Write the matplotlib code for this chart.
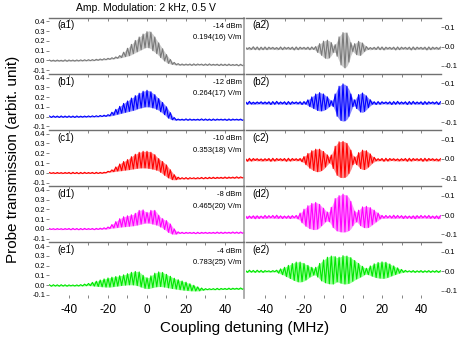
import matplotlib
matplotlib.use("Agg")
import matplotlib.pyplot as plt

plt.rcParams["font.family"] = ["Liberation Sans", "DejaVu Sans"]
plt.rcParams["axes.unicode_minus"] = False

# detuning grid (MHz), one sample per MHz
detuning = list(range(-50, 51))

# upper / lower envelope of the fast oscillating trace
a1_hi = [0.004, 0.006, 0.003, 0.005, 0.004, 0.006, 0.002, 0.005, 0.006, 0.004,
         0.005, 0.007, 0.004, 0.006, 0.005, 0.007, 0.006, 0.008, 0.007, 0.009,
         0.008, 0.010, 0.009, 0.011, 0.012, 0.014, 0.015, 0.017, 0.018, 0.020,
         0.022, 0.025, 0.028, 0.032, 0.036, 0.042, 0.050, 0.065, 0.085, 0.105,
         0.125, 0.145, 0.165, 0.185, 0.205, 0.220, 0.240, 0.255, 0.270, 0.285,
         0.295, 0.305, 0.290, 0.270, 0.240, 0.210, 0.180, 0.150, 0.120, 0.090,
         0.060, 0.035, 0.010, -0.010, -0.020, -0.028, -0.032, -0.035, -0.036, -0.035,
         -0.037, -0.034, -0.036, -0.038, -0.035, -0.037, -0.036, -0.034, -0.037, -0.038,
         -0.036, -0.038, -0.035, -0.037, -0.039, -0.036, -0.038, -0.040, -0.037, -0.039,
         -0.038, -0.040, -0.037, -0.039, -0.041, -0.038, -0.040, -0.042, -0.039, -0.041,
         -0.040]
a1_lo = [-0.008, -0.006, -0.009, -0.007, -0.008, -0.006, -0.010, -0.007, -0.006, -0.008,
         -0.007, -0.005, -0.008, -0.006, -0.007, -0.005, -0.006, -0.004, -0.005, -0.003,
         -0.004, -0.002, -0.003, -0.001, 0.000, 0.002, 0.003, 0.005, 0.006, 0.008,
         0.010, 0.012, 0.014, 0.017, 0.020, 0.023, 0.026, 0.030, 0.035, 0.040,
         0.045, 0.050, 0.060, 0.070, 0.080, 0.090, 0.100, 0.110, 0.120, 0.130,
         0.135, 0.130, 0.120, 0.100, 0.085, 0.070, 0.050, 0.030, 0.010, -0.005,
         -0.020, -0.030, -0.035, -0.040, -0.043, -0.045, -0.047, -0.048, -0.049, -0.048,
         -0.049, -0.047, -0.048, -0.050, -0.047, -0.049, -0.048, -0.046, -0.049, -0.050,
         -0.048, -0.050, -0.047, -0.049, -0.051, -0.048, -0.050, -0.052, -0.049, -0.051,
         -0.050, -0.052, -0.049, -0.051, -0.053, -0.050, -0.052, -0.054, -0.051, -0.053,
         -0.052]

b1_hi = [0.006, 0.004, 0.007, 0.005, 0.006, 0.004, 0.007, 0.005, 0.006, 0.005,
         0.007, 0.005, 0.006, 0.004, 0.007, 0.006, 0.005, 0.007, 0.006, 0.008,
         0.007, 0.009, 0.008, 0.010, 0.009, 0.011, 0.012, 0.013, 0.015, 0.017,
         0.020, 0.030, 0.045, 0.060, 0.075, 0.090, 0.105, 0.120, 0.135, 0.150,
         0.160, 0.175, 0.190, 0.200, 0.215, 0.225, 0.240, 0.250, 0.260, 0.265,
         0.270, 0.265, 0.255, 0.240, 0.225, 0.205, 0.185, 0.165, 0.145, 0.125,
         0.100, 0.070, 0.040, 0.010, -0.010, -0.020, -0.025, -0.024, -0.026, -0.025,
         -0.023, -0.026, -0.024, -0.025, -0.027, -0.024, -0.026, -0.025, -0.023, -0.026,
         -0.024, -0.026, -0.025, -0.027, -0.024, -0.026, -0.025, -0.023, -0.026, -0.024,
         -0.025, -0.027, -0.024, -0.026, -0.025, -0.023, -0.026, -0.024, -0.025, -0.027,
         -0.025]
b1_lo = [-0.006, -0.008, -0.005, -0.007, -0.006, -0.008, -0.005, -0.007, -0.006, -0.007,
         -0.005, -0.007, -0.006, -0.008, -0.005, -0.006, -0.007, -0.005, -0.006, -0.004,
         -0.005, -0.003, -0.004, -0.002, -0.003, -0.001, 0.000, 0.001, 0.002, 0.003,
         0.005, 0.008, 0.010, 0.015, 0.020, 0.025, 0.030, 0.035, 0.040, 0.045,
         0.050, 0.055, 0.060, 0.065, 0.070, 0.080, 0.085, 0.090, 0.095, 0.100,
         0.100, 0.100, 0.095, 0.090, 0.085, 0.075, 0.065, 0.050, 0.035, 0.020,
         0.000, -0.015, -0.025, -0.032, -0.035, -0.036, -0.036, -0.035, -0.037, -0.036,
         -0.034, -0.037, -0.035, -0.036, -0.038, -0.035, -0.037, -0.036, -0.034, -0.037,
         -0.035, -0.037, -0.036, -0.038, -0.035, -0.037, -0.036, -0.034, -0.037, -0.035,
         -0.036, -0.038, -0.035, -0.037, -0.036, -0.034, -0.037, -0.035, -0.036, -0.038,
         -0.036]

c1_hi = [0.003, 0.005, 0.002, 0.004, 0.003, 0.005, 0.002, 0.004, 0.003, 0.005,
         0.004, 0.002, 0.005, 0.003, 0.004, 0.002, 0.004, 0.003, 0.005, 0.004,
         0.003, 0.005, 0.004, 0.003, 0.005, 0.004, 0.004, 0.005, 0.005, 0.010,
         0.015, 0.020, 0.030, 0.045, 0.060, 0.075, 0.090, 0.105, 0.115, 0.125,
         0.135, 0.150, 0.165, 0.180, 0.190, 0.200, 0.210, 0.215, 0.220, 0.220,
         0.220, 0.218, 0.210, 0.200, 0.185, 0.165, 0.145, 0.130, 0.115, 0.100,
         0.080, 0.055, 0.030, 0.005, -0.020, -0.035, -0.045, -0.050, -0.050, -0.051,
         -0.049, -0.052, -0.050, -0.048, -0.051, -0.049, -0.050, -0.048, -0.047, -0.049,
         -0.047, -0.048, -0.046, -0.047, -0.045, -0.047, -0.046, -0.044, -0.046, -0.045,
         -0.043, -0.045, -0.044, -0.042, -0.044, -0.043, -0.041, -0.043, -0.042, -0.040,
         -0.042]
c1_lo = [-0.008, -0.006, -0.009, -0.007, -0.008, -0.006, -0.009, -0.007, -0.008, -0.006,
         -0.007, -0.009, -0.006, -0.008, -0.007, -0.009, -0.007, -0.008, -0.006, -0.007,
         -0.008, -0.006, -0.007, -0.008, -0.006, -0.007, -0.006, -0.005, -0.005, 0.000,
         0.005, 0.008, 0.010, 0.012, 0.015, 0.018, 0.020, 0.022, 0.025, 0.028,
         0.030, 0.033, 0.036, 0.040, 0.043, 0.046, 0.048, 0.050, 0.050, 0.050,
         0.048, 0.045, 0.042, 0.038, 0.033, 0.027, 0.018, 0.005, -0.010, -0.025,
         -0.040, -0.052, -0.062, -0.070, -0.072, -0.070, -0.066, -0.063, -0.062, -0.063,
         -0.061, -0.064, -0.062, -0.060, -0.063, -0.061, -0.062, -0.060, -0.059, -0.061,
         -0.059, -0.060, -0.058, -0.059, -0.057, -0.059, -0.058, -0.056, -0.058, -0.057,
         -0.055, -0.057, -0.056, -0.054, -0.056, -0.055, -0.053, -0.055, -0.054, -0.052,
         -0.054]

d1_hi = [0.004, 0.006, 0.003, 0.005, 0.004, 0.006, 0.003, 0.005, 0.004, 0.006,
         0.005, 0.003, 0.006, 0.004, 0.005, 0.003, 0.005, 0.004, 0.006, 0.005,
         0.004, 0.006, 0.005, 0.004, 0.006, 0.005, 0.008, 0.010, 0.012, 0.015,
         0.020, 0.030, 0.045, 0.060, 0.075, 0.090, 0.105, 0.115, 0.125, 0.130,
         0.135, 0.140, 0.145, 0.150, 0.160, 0.180, 0.190, 0.195, 0.195, 0.180,
         0.170, 0.175, 0.190, 0.195, 0.190, 0.170, 0.140, 0.120, 0.105, 0.095,
         0.085, 0.070, 0.050, 0.025, 0.000, -0.020, -0.030, -0.035, -0.034, -0.036,
         -0.035, -0.033, -0.036, -0.034, -0.035, -0.037, -0.034, -0.036, -0.035, -0.033,
         -0.035, -0.034, -0.036, -0.033, -0.035, -0.034, -0.032, -0.034, -0.033, -0.035,
         -0.033, -0.032, -0.034, -0.033, -0.031, -0.033, -0.032, -0.034, -0.031, -0.033,
         -0.032]
d1_lo = [-0.007, -0.005, -0.008, -0.006, -0.007, -0.005, -0.008, -0.006, -0.007, -0.005,
         -0.006, -0.008, -0.005, -0.007, -0.006, -0.008, -0.006, -0.007, -0.005, -0.006,
         -0.007, -0.005, -0.006, -0.007, -0.005, -0.005, -0.004, -0.003, -0.002, -0.001,
         0.000, 0.005, 0.008, 0.010, 0.012, 0.015, 0.018, 0.020, 0.022, 0.024,
         0.026, 0.028, 0.030, 0.033, 0.036, 0.040, 0.045, 0.050, 0.055, 0.060,
         0.060, 0.060, 0.055, 0.050, 0.045, 0.040, 0.030, 0.020, 0.010, -0.005,
         -0.020, -0.035, -0.045, -0.052, -0.055, -0.052, -0.048, -0.046, -0.045, -0.047,
         -0.046, -0.044, -0.047, -0.045, -0.046, -0.048, -0.045, -0.047, -0.046, -0.044,
         -0.046, -0.045, -0.047, -0.044, -0.046, -0.045, -0.043, -0.045, -0.044, -0.046,
         -0.044, -0.043, -0.045, -0.044, -0.042, -0.044, -0.043, -0.045, -0.042, -0.044,
         -0.043]

e1_hi = [0.003, 0.001, 0.004, 0.002, 0.003, 0.001, 0.004, 0.002, 0.003, 0.001,
         0.002, 0.004, 0.001, 0.003, 0.002, 0.003, 0.005, 0.008, 0.010, 0.013,
         0.017, 0.022, 0.028, 0.034, 0.040, 0.046, 0.052, 0.058, 0.063, 0.068,
         0.073, 0.077, 0.081, 0.085, 0.088, 0.092, 0.096, 0.100, 0.105, 0.110,
         0.117, 0.124, 0.131, 0.137, 0.140, 0.140, 0.135, 0.120, 0.100, 0.085,
         0.075, 0.080, 0.095, 0.110, 0.122, 0.130, 0.135, 0.135, 0.130, 0.120,
         0.110, 0.100, 0.090, 0.080, 0.070, 0.062, 0.055, 0.048, 0.042, 0.036,
         0.030, 0.022, 0.014, 0.006, -0.002, -0.010, -0.018, -0.025, -0.030, -0.034,
         -0.036, -0.035, -0.037, -0.034, -0.036, -0.035, -0.033, -0.035, -0.034, -0.032,
         -0.034, -0.033, -0.031, -0.033, -0.032, -0.030, -0.032, -0.031, -0.029, -0.031,
         -0.030]
e1_lo = [-0.009, -0.011, -0.008, -0.010, -0.009, -0.011, -0.008, -0.010, -0.009, -0.011,
         -0.010, -0.008, -0.011, -0.009, -0.010, -0.009, -0.008, -0.008, -0.007, -0.006,
         -0.005, -0.006, -0.008, -0.010, -0.012, -0.014, -0.015, -0.017, -0.018, -0.020,
         -0.020, -0.020, -0.018, -0.015, -0.012, -0.010, -0.007, -0.004, -0.002, 0.000,
         0.002, 0.003, 0.003, 0.002, 0.000, -0.005, -0.012, -0.020, -0.027, -0.033,
         -0.036, -0.035, -0.030, -0.025, -0.020, -0.017, -0.015, -0.015, -0.017, -0.020,
         -0.024, -0.028, -0.032, -0.035, -0.038, -0.041, -0.044, -0.047, -0.050, -0.052,
         -0.054, -0.056, -0.058, -0.059, -0.060, -0.060, -0.060, -0.058, -0.055, -0.052,
         -0.048, -0.047, -0.049, -0.046, -0.048, -0.047, -0.045, -0.047, -0.046, -0.044,
         -0.046, -0.045, -0.043, -0.045, -0.044, -0.042, -0.044, -0.043, -0.041, -0.043,
         -0.042]

a2_hi = [-0.004, -0.002, -0.005, -0.003, -0.001, -0.004, -0.002, -0.005, -0.003, -0.004,
         -0.002, -0.004, -0.003, -0.001, -0.004, -0.002, -0.005, -0.003, -0.002, -0.004,
         -0.003, -0.001, -0.004, -0.002, -0.003, -0.005, -0.002, -0.004, -0.003, -0.001,
         -0.004, -0.002, -0.003, -0.004, -0.002, -0.003, 0.000, 0.010, 0.015, 0.020,
         0.028, 0.032, 0.033, 0.030, 0.020, 0.005, 0.010, 0.030, 0.050, 0.065,
         0.072, 0.075, 0.070, 0.050, 0.020, 0.005, 0.015, 0.022, 0.027, 0.025,
         0.018, 0.010, 0.000, -0.003, -0.005, -0.002, -0.004, -0.003, -0.001, -0.004,
         -0.002, -0.005, -0.003, -0.001, -0.004, -0.002, -0.003, -0.005, -0.002, -0.004,
         -0.003, -0.001, -0.004, -0.002, -0.003, -0.005, -0.002, -0.004, -0.003, -0.001,
         -0.004, -0.002, -0.003, -0.005, -0.002, -0.004, -0.003, -0.001, -0.004, -0.002,
         -0.003]
a2_lo = [-0.016, -0.014, -0.017, -0.015, -0.013, -0.016, -0.014, -0.017, -0.015, -0.016,
         -0.014, -0.016, -0.015, -0.013, -0.016, -0.014, -0.017, -0.015, -0.014, -0.016,
         -0.015, -0.013, -0.016, -0.014, -0.015, -0.017, -0.014, -0.016, -0.015, -0.013,
         -0.016, -0.014, -0.015, -0.016, -0.014, -0.015, -0.020, -0.030, -0.035, -0.045,
         -0.055, -0.060, -0.063, -0.058, -0.045, -0.030, -0.030, -0.050, -0.075, -0.095,
         -0.105, -0.110, -0.100, -0.080, -0.045, -0.025, -0.035, -0.042, -0.045, -0.045,
         -0.035, -0.025, -0.018, -0.015, -0.017, -0.014, -0.016, -0.015, -0.013, -0.016,
         -0.014, -0.017, -0.015, -0.013, -0.016, -0.014, -0.015, -0.017, -0.014, -0.016,
         -0.015, -0.013, -0.016, -0.014, -0.015, -0.017, -0.014, -0.016, -0.015, -0.013,
         -0.016, -0.014, -0.015, -0.017, -0.014, -0.016, -0.015, -0.013, -0.016, -0.014,
         -0.015]

b2_hi = [0.006, 0.004, 0.007, 0.005, 0.003, 0.006, 0.004, 0.007, 0.005, 0.006,
         0.004, 0.006, 0.005, 0.003, 0.006, 0.004, 0.007, 0.005, 0.004, 0.006,
         0.005, 0.003, 0.006, 0.004, 0.005, 0.007, 0.004, 0.006, 0.005, 0.003,
         0.006, 0.008, 0.015, 0.022, 0.030, 0.038, 0.045, 0.050, 0.052, 0.050,
         0.045, 0.038, 0.030, 0.020, 0.010, 0.020, 0.045, 0.070, 0.085, 0.093,
         0.097, 0.095, 0.085, 0.070, 0.045, 0.020, 0.015, 0.030, 0.042, 0.050,
         0.050, 0.045, 0.035, 0.025, 0.015, 0.008, 0.005, 0.003, 0.006, 0.004,
         0.005, 0.007, 0.004, 0.006, 0.005, 0.003, 0.006, 0.004, 0.007, 0.005,
         0.004, 0.006, 0.005, 0.003, 0.006, 0.004, 0.007, 0.005, 0.004, 0.006,
         0.005, 0.003, 0.006, 0.004, 0.005, 0.007, 0.004, 0.006, 0.005, 0.003,
         0.005]
b2_lo = [-0.006, -0.008, -0.005, -0.007, -0.009, -0.006, -0.008, -0.005, -0.007, -0.006,
         -0.008, -0.006, -0.007, -0.009, -0.006, -0.008, -0.005, -0.007, -0.008, -0.006,
         -0.007, -0.009, -0.006, -0.008, -0.007, -0.005, -0.008, -0.006, -0.007, -0.009,
         -0.006, -0.008, -0.015, -0.020, -0.025, -0.030, -0.035, -0.040, -0.042, -0.042,
         -0.040, -0.035, -0.028, -0.020, -0.012, -0.020, -0.045, -0.070, -0.085, -0.092,
         -0.095, -0.093, -0.085, -0.070, -0.045, -0.020, -0.015, -0.030, -0.040, -0.048,
         -0.050, -0.045, -0.035, -0.025, -0.015, -0.008, -0.007, -0.009, -0.006, -0.008,
         -0.007, -0.005, -0.008, -0.006, -0.007, -0.009, -0.006, -0.008, -0.005, -0.007,
         -0.008, -0.006, -0.007, -0.009, -0.006, -0.008, -0.005, -0.007, -0.008, -0.006,
         -0.007, -0.009, -0.006, -0.008, -0.007, -0.005, -0.008, -0.006, -0.007, -0.009,
         -0.007]

c2_hi = [0.002, 0.000, 0.003, 0.001, 0.002, 0.004, 0.001, 0.003, 0.000, 0.002,
         0.001, 0.003, 0.002, 0.000, 0.003, 0.001, 0.002, 0.004, 0.001, 0.003,
         0.002, 0.000, 0.003, 0.001, 0.002, 0.004, 0.001, 0.003, 0.002, 0.005,
         0.012, 0.020, 0.028, 0.035, 0.042, 0.047, 0.050, 0.052, 0.050, 0.045,
         0.038, 0.030, 0.020, 0.010, 0.020, 0.045, 0.065, 0.080, 0.088, 0.090,
         0.090, 0.088, 0.080, 0.065, 0.045, 0.020, 0.010, 0.020, 0.032, 0.040,
         0.045, 0.045, 0.042, 0.035, 0.025, 0.015, 0.008, 0.002, 0.001, 0.003,
         0.002, 0.000, 0.003, 0.001, 0.002, 0.004, 0.001, 0.003, 0.000, 0.002,
         0.001, 0.003, 0.002, 0.000, 0.003, 0.001, 0.002, 0.004, 0.001, 0.003,
         0.002, 0.000, 0.003, 0.001, 0.002, 0.004, 0.001, 0.003, 0.000, 0.002,
         0.001]
c2_lo = [-0.010, -0.012, -0.009, -0.011, -0.010, -0.008, -0.011, -0.009, -0.012, -0.010,
         -0.011, -0.009, -0.010, -0.012, -0.009, -0.011, -0.010, -0.008, -0.011, -0.009,
         -0.010, -0.012, -0.009, -0.011, -0.010, -0.008, -0.011, -0.009, -0.010, -0.015,
         -0.020, -0.030, -0.040, -0.048, -0.055, -0.060, -0.065, -0.066, -0.065, -0.060,
         -0.052, -0.042, -0.030, -0.020, -0.030, -0.050, -0.070, -0.085, -0.093, -0.096,
         -0.097, -0.095, -0.088, -0.075, -0.055, -0.030, -0.020, -0.030, -0.040, -0.050,
         -0.055, -0.055, -0.050, -0.042, -0.032, -0.022, -0.015, -0.010, -0.011, -0.009,
         -0.010, -0.012, -0.009, -0.011, -0.010, -0.008, -0.011, -0.009, -0.012, -0.010,
         -0.011, -0.009, -0.010, -0.012, -0.009, -0.011, -0.010, -0.008, -0.011, -0.009,
         -0.010, -0.012, -0.009, -0.011, -0.010, -0.008, -0.011, -0.009, -0.012, -0.010,
         -0.011]

d2_hi = [-0.004, -0.002, -0.005, -0.003, -0.004, -0.001, -0.004, -0.002, -0.005, -0.003,
         -0.002, -0.004, -0.003, -0.005, -0.002, -0.004, -0.001, -0.003, -0.004, -0.002,
         -0.005, -0.003, -0.004, -0.002, -0.003, -0.005, -0.002, 0.000, 0.010, 0.020,
         0.030, 0.040, 0.048, 0.055, 0.060, 0.063, 0.065, 0.062, 0.055, 0.045,
         0.035, 0.025, 0.015, 0.020, 0.040, 0.065, 0.085, 0.095, 0.100, 0.105,
         0.108, 0.105, 0.100, 0.090, 0.070, 0.045, 0.020, 0.015, 0.025, 0.035,
         0.042, 0.045, 0.045, 0.043, 0.038, 0.032, 0.025, 0.018, 0.010, 0.003,
         -0.002, -0.004, -0.002, -0.005, -0.003, -0.004, -0.001, -0.004, -0.002, -0.005,
         -0.003, -0.002, -0.004, -0.003, -0.005, -0.002, -0.004, -0.001, -0.003, -0.004,
         -0.002, -0.005, -0.003, -0.004, -0.002, -0.003, -0.005, -0.002, -0.004, -0.001,
         -0.003]
d2_lo = [-0.016, -0.018, -0.015, -0.017, -0.016, -0.019, -0.016, -0.018, -0.015, -0.017,
         -0.018, -0.016, -0.017, -0.015, -0.018, -0.016, -0.019, -0.017, -0.016, -0.018,
         -0.015, -0.017, -0.016, -0.018, -0.017, -0.015, -0.018, -0.020, -0.030, -0.040,
         -0.050, -0.058, -0.065, -0.070, -0.073, -0.075, -0.075, -0.072, -0.065, -0.055,
         -0.045, -0.035, -0.030, -0.035, -0.050, -0.065, -0.075, -0.082, -0.085, -0.087,
         -0.088, -0.087, -0.085, -0.080, -0.070, -0.055, -0.040, -0.035, -0.045, -0.055,
         -0.062, -0.065, -0.066, -0.064, -0.058, -0.050, -0.042, -0.035, -0.028, -0.020,
         -0.017, -0.016, -0.018, -0.015, -0.017, -0.016, -0.019, -0.016, -0.018, -0.015,
         -0.017, -0.018, -0.016, -0.017, -0.015, -0.018, -0.016, -0.019, -0.017, -0.016,
         -0.018, -0.015, -0.017, -0.016, -0.018, -0.017, -0.015, -0.018, -0.016, -0.019,
         -0.017]

e2_hi = [0.004, 0.002, 0.005, 0.003, 0.004, 0.002, 0.005, 0.003, 0.004, 0.002,
         0.003, 0.005, 0.002, 0.004, 0.003, 0.005, 0.005, 0.008, 0.012, 0.016,
         0.020, 0.025, 0.030, 0.035, 0.040, 0.044, 0.047, 0.048, 0.047, 0.045,
         0.040, 0.035, 0.030, 0.025, 0.020, 0.015, 0.020, 0.030, 0.040, 0.050,
         0.058, 0.065, 0.072, 0.076, 0.078, 0.080, 0.075, 0.070, 0.072, 0.076,
         0.080, 0.080, 0.078, 0.075, 0.070, 0.062, 0.055, 0.048, 0.040, 0.032,
         0.025, 0.018, 0.015, 0.020, 0.027, 0.033, 0.038, 0.042, 0.045, 0.047,
         0.048, 0.048, 0.046, 0.042, 0.037, 0.032, 0.027, 0.022, 0.017, 0.013,
         0.009, 0.006, 0.004, 0.004, 0.002, 0.005, 0.003, 0.004, 0.002, 0.005,
         0.003, 0.004, 0.002, 0.005, 0.003, 0.004, 0.002, 0.005, 0.003, 0.004,
         0.002]
e2_lo = [-0.004, -0.006, -0.003, -0.005, -0.004, -0.006, -0.003, -0.005, -0.004, -0.006,
         -0.005, -0.003, -0.006, -0.004, -0.005, -0.003, -0.005, -0.010, -0.014, -0.018,
         -0.022, -0.028, -0.033, -0.038, -0.043, -0.048, -0.052, -0.055, -0.056, -0.054,
         -0.050, -0.045, -0.038, -0.030, -0.025, -0.020, -0.020, -0.030, -0.040, -0.050,
         -0.055, -0.060, -0.063, -0.065, -0.066, -0.066, -0.060, -0.055, -0.058, -0.062,
         -0.065, -0.066, -0.065, -0.063, -0.058, -0.052, -0.045, -0.040, -0.035, -0.030,
         -0.025, -0.018, -0.015, -0.018, -0.022, -0.026, -0.030, -0.033, -0.035, -0.036,
         -0.037, -0.037, -0.035, -0.032, -0.028, -0.024, -0.020, -0.017, -0.013, -0.010,
         -0.008, -0.006, -0.004, -0.004, -0.003, -0.005, -0.004, -0.006, -0.003, -0.005,
         -0.004, -0.006, -0.003, -0.005, -0.004, -0.006, -0.003, -0.005, -0.004, -0.006,
         -0.004]

row_tags = ["a", "b", "c", "d", "e"]
powers = ["-14 dBm", "-12 dBm", "-10 dBm", "-8 dBm", "-4 dBm"]
fields = ["0.194(16) V/m", "0.264(17) V/m", "0.353(18) V/m", "0.465(20) V/m", "0.783(25) V/m"]
left_traces = [(a1_hi, a1_lo), (b1_hi, b1_lo), (c1_hi, c1_lo), (d1_hi, d1_lo), (e1_hi, e1_lo)]
right_traces = [(a2_hi, a2_lo), (b2_hi, b2_lo), (c2_hi, c2_lo), (d2_hi, d2_lo), (e2_hi, e2_lo)]
left_ticks = [-0.1, 0.0, 0.1, 0.2, 0.3, 0.4]
right_ticks = [-0.1, 0.0, 0.1]
x_ticks = [-40, -20, 0, 20, 40]

dark = ["#7a7a7a", "#0000ff", "#ff0000", "#ff00ff", "#00e600"]
light = ["#cacaca", "#8a8aff", "#ff8a8a", "#ff96ff", "#96ff96"]

fig = plt.figure(figsize=(4.57, 3.42), dpi=100)

x0_left, x0_right, width = 0.1083, 0.5372, 0.4267
top, bottom = 0.9488, 0.1278
height = (top - bottom) / 5
frame = "#707070"


def draw_trace(ax, hi, lo, i):
    # light band between the envelopes, then the trace itself, which swings
    # from one envelope to the other on successive samples
    ax.fill_between(detuning, lo, hi, color=light[i], lw=0)
    swing = [h if k % 2 == 0 else l for k, (h, l) in enumerate(zip(hi, lo))]
    ax.plot(detuning, swing, color=dark[i], lw=0.8)


for i, tag in enumerate(row_tags):
    y0 = top - (i + 1) * height
    for side in ("left", "right"):
        x0 = x0_left if side == "left" else x0_right
        ax = fig.add_axes([x0, y0, width, height])
        hi, lo = (left_traces if side == "left" else right_traces)[i]
        draw_trace(ax, hi, lo, i)
        ax.set_xlim(-50, 50)
        for s in ax.spines.values():
            s.set_visible(False)
        ax.spines["top"].set_visible(True)
        ax.spines["top"].set_color(frame)
        ax.spines["top"].set_linewidth(1.0)
        ax.set_xticks(x_ticks)
        ax.set_xticks([-30, -10, 10, 30], minor=True)
        ax.tick_params(axis="x", which="both", top=True, bottom=(i == 4),
                       direction="out", length=2, width=0.6, color=frame,
                       labelbottom=(i == 4), labelsize=8.5, pad=4)
        ax.tick_params(axis="x", which="both", top=True, direction="in")
        if side == "left":
            ax.set_ylim(-0.135, 0.44)
            ax.set_yticks(left_ticks)
            ax.set_yticklabels([f"{t:.1f}" for t in left_ticks])
            ax.tick_params(axis="y", left=True, right=False, length=2, width=0.6,
                           color=frame, labelsize=5.5, pad=1)
            ax.spines["right"].set_visible(True)
            ax.spines["right"].set_color("#a0a0a0")
            ax.spines["right"].set_linewidth(1.2)
            ax.text(0.04, 0.86, f"({tag}1)", transform=ax.transAxes,
                    fontsize=7, va="center")
            ax.text(0.985, 0.84, powers[i], transform=ax.transAxes,
                    fontsize=5.5, ha="right", va="center")
            ax.text(0.985, 0.64, fields[i], transform=ax.transAxes,
                    fontsize=5.5, ha="right", va="center")
        else:
            ax.set_ylim(-0.14, 0.15)
            ax.set_yticks(right_ticks)
            ax.set_yticklabels([f"{t:.1f}" for t in right_ticks])
            ax.yaxis.tick_right()
            ax.tick_params(axis="y", left=False, right=True, length=2, width=0.6,
                           color=frame, labelsize=5.5, pad=1)
            ax.text(0.035, 0.86, f"({tag}2)", transform=ax.transAxes,
                    fontsize=7, va="center")

fig.text(0.32, 0.977, "Amp. Modulation: 2 kHz, 0.5 V", ha="center", va="center",
         fontsize=7.5)
fig.text(0.028, 0.535, "Probe transmission (arbit. unit)", rotation=90,
         ha="center", va="center", fontsize=11)
fig.text(0.535, 0.04, "Coupling detuning (MHz)", ha="center", va="center",
         fontsize=11)

fig.savefig("out.png", dpi=100)
